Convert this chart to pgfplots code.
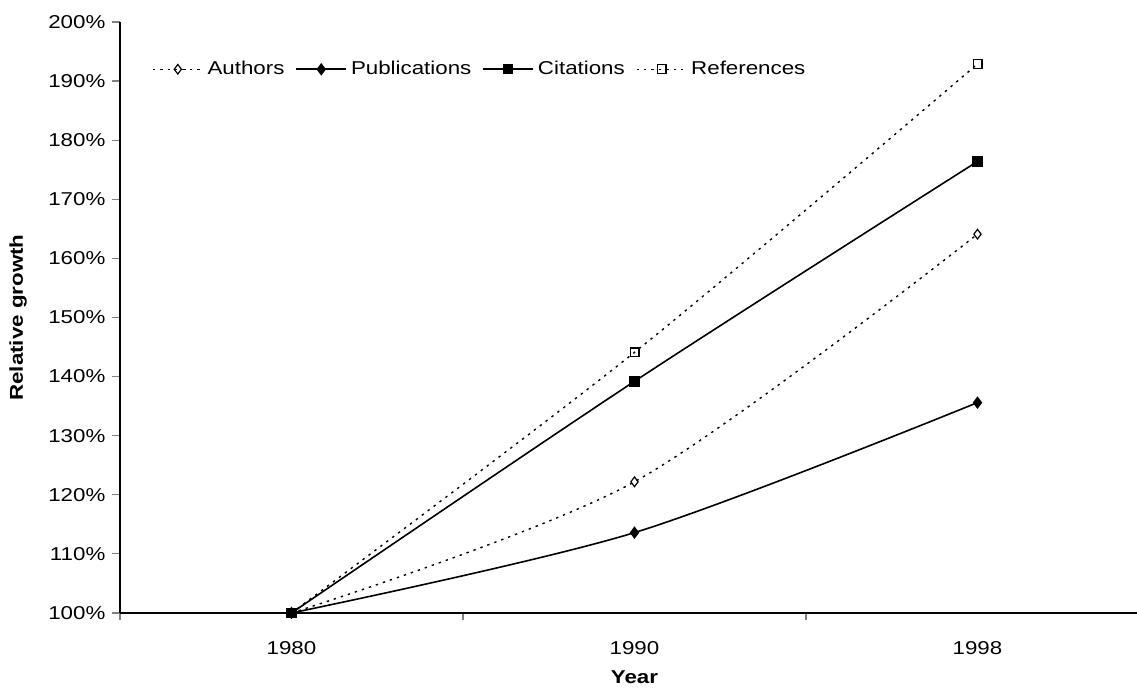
\documentclass[border=0pt]{standalone}
\usepackage{fontspec}
\setmainfont{Liberation Sans}[FakeStretch=1.2]
\usepackage{pgfplots}
\pgfplotsset{compat=1.18}
\begin{document}
\fontsize{9.3pt}{11pt}\selectfont
\begin{tikzpicture}
\begin{axis}[
  scale only axis,
  width=514.5pt, height=295.5pt,
  at={(60pt,40.5pt)}, anchor=south west,
  xmin=-0.5, xmax=2.5,
  ymin=100, ymax=200,
  axis lines*=left,
  axis line style={line width=0.7pt},
  xtick={0,1,2},
  xticklabels={1980,1990,1998},
  major x tick style={draw=none},
  minor xtick={-0.5,0.5,1.5,2.5},
  minor x tick style={line width=0.6pt},
  minor tick length=3.5pt,
  ytick={100,110,...,200},
  yticklabels={100\%,110\%,120\%,130\%,140\%,150\%,160\%,170\%,180\%,190\%,200\%},
  y tick style={line width=0.6pt},
  major tick length=4pt,
  tick align=outside,
  tick label style={font=\fontsize{9.3pt}{11pt}\selectfont},
  /pgf/number format/assume math mode=true,
  xticklabel style={yshift=-7pt},
  ylabel={\bfseries Relative growth},
  xlabel={\bfseries Year},
  ylabel style={at={(axis description cs:-0.0991,0.5)}, anchor=center, font=\fontsize{9.3pt}{11pt}\selectfont},
  xlabel style={at={(axis description cs:0.5,-0.108)}, anchor=center, font=\fontsize{9.3pt}{11pt}\selectfont},
  legend columns=-1,
  legend style={draw=none, fill=none, at={(axis description cs:0.025,0.920)}, anchor=west,
    font=\fontsize{9.3pt}{11pt}\selectfont,
    /tikz/every even column/.append style={column sep=3.5pt}},
  legend image code/.code={\draw[#1,mark repeat=2,mark phase=2] plot coordinates {(0pt,0pt) (12.5pt,0pt) (25pt,0pt)};},
  every axis plot/.append style={smooth, tension=0.5},
  clip=false,
]
\addplot[black, line width=0.7pt, dash pattern=on 1.2pt off 2.5pt, mark=diamond, mark size=2.4pt, mark options={solid, fill=white, line width=0.6pt}]
  coordinates {(0,100) (1,122.2) (2,164.1)};
\addlegendentry{Authors}
\addplot[black, line width=0.8pt, mark=diamond*, mark size=2.5pt, mark options={solid}]
  coordinates {(0,100) (1,113.6) (2,135.6)};
\addlegendentry{Publications}
\addplot[black, line width=0.8pt, mark=square*, mark size=2.2pt, mark options={solid}]
  coordinates {(0,100) (1,139.2) (2,176.4)};
\addlegendentry{Citations}
\addplot[black, line width=0.7pt, dash pattern=on 1.2pt off 2.5pt, mark=square, mark size=2.2pt, mark options={solid, fill=white, line width=0.6pt}]
  coordinates {(0,100) (1,144.1) (2,192.9)};
\addlegendentry{References}
\end{axis}
\pgfresetboundingbox
\useasboundingbox (0,0) rectangle (568.5pt,347pt);
\end{tikzpicture}
\end{document}
